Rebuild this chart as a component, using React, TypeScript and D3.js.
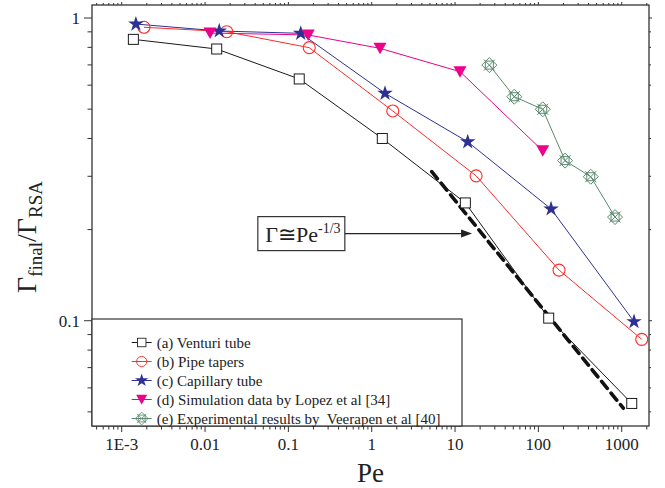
import React from "react";
import * as d3 from "d3";

const W = 665, H = 488;
const M = { left: 92, right: 649, top: 5, bottom: 426 };

// Data
const venturiPe = [0.00138, 0.0138, 0.135, 1.34, 13.3, 133, 1320];
const venturiG = [0.85, 0.79, 0.629, 0.40, 0.245, 0.102, 0.0533];
const taperPe = [0.00185, 0.0182, 0.178, 1.79, 17.9, 177, 1740];
const taperG = [0.932, 0.901, 0.798, 0.493, 0.301, 0.147, 0.0868];
const capPe = [0.00148, 0.0148, 0.1406, 1.445, 14.2, 142, 1406];
const capG = [0.955, 0.906, 0.89, 0.564, 0.39, 0.234, 0.0993];
const lopezPe = [0.01148, 0.173, 1.258, 11.47, 112.8];
const lopezG = [0.892, 0.879, 0.794, 0.665, 0.364];
const veerPe = [25.8, 51.4, 112.8, 209, 425, 832];
const veerG = [0.699, 0.5495, 0.4994, 0.338, 0.299, 0.22];
const fitPe = [5.25, 1045];
const fitG = [0.311, 0.0514];

const xTickVals = [0.001, 0.01, 0.1, 1, 10, 100, 1000];
const xTickLabels = ["1E-3", "0.01", "0.1", "1", "10", "100", "1000"];
const yTickVals = [0.1, 1];
const yTickLabels = ["0.1", "1"];

const legendLabels = [
  "(a) Venturi tube",
  "(b) Pipe tapers",
  "(c) Capillary tube",
  "(d) Simulation data by Lopez et al [34]",
  "(e) Experimental results by\u00a0 Veerapen et al [40]",
];

// annotation anchor in data coordinates
const annBoxPe = 0.043;
const annG = 0.194;
const annTipPe = 16;

const FONT = "Liberation Serif";

const COLORS = {
  a: "#1a1a1a",
  b: "#ff2a2a",
  c: "#2e3192",
  d: "#ec008c",
  e: "#5b8a6e",
};

const x = d3.scaleLog().domain([4.4e-4, 2126]).range([M.left, M.right]);
const y = d3.scaleLog().domain([0.0449, 1.104]).range([M.bottom, M.top]);

const line = d3
  .line<[number, number]>()
  .x((d) => x(d[0]))
  .y((d) => y(d[1]));

const zip = (a: number[], b: number[]) => a.map((v, i) => [v, b[i]] as [number, number]);

const starPath = d3.symbol(d3.symbolStar, 75)()!;

function Marker({ kind, cx, cy, s = 1 }: { kind: string; cx: number; cy: number; s?: number }) {
  const t = `translate(${cx},${cy}) scale(${s})`;
  if (kind === "a")
    return <rect transform={t} x={-5} y={-5} width={10} height={10} fill="#fff" stroke={COLORS.a} strokeWidth={1} />;
  if (kind === "b")
    return <circle transform={t} r={6} fill="none" stroke={COLORS.b} strokeWidth={1.1} />;
  if (kind === "c") return <path transform={t} d={starPath} fill={COLORS.c} />;
  if (kind === "d") return <path transform={t} d="M-6.5,-5.5L6.5,-5.5L0,6Z" fill={COLORS.d} />;
  return (
    <g transform={t} fill="none" stroke={COLORS.e} strokeWidth={1}>
      <path d="M0,-7.5L7.5,0L0,7.5L-7.5,0Z" />
      <path d="M-4,-4L4,-4L4,4L-4,4Z" />
      <path d="M-5.5,-5.5L5.5,5.5M-5.5,5.5L5.5,-5.5" />
    </g>
  );
}

const series = [
  { k: "a", pe: venturiPe, g: venturiG },
  { k: "b", pe: taperPe, g: taperG },
  { k: "c", pe: capPe, g: capG },
  { k: "d", pe: lopezPe, g: lopezG },
  { k: "e", pe: veerPe, g: veerG },
];

function minorTicks(lo: number, hi: number) {
  const out: number[] = [];
  for (let e = -5; e <= 4; e++) {
    for (let m = 1; m <= 9; m++) {
      const v = m * Math.pow(10, e);
      if (v >= lo && v <= hi) out.push(v);
    }
  }
  return out;
}

export default function App() {
  const [x0, x1] = x.domain();
  const [y0, y1] = y.domain();
  const xMinor = minorTicks(x0, x1);
  const yMinor = minorTicks(y0, y1);
  const isMajor = (v: number) => Math.abs(Math.log10(v) - Math.round(Math.log10(v))) < 1e-6;

  const boxX = x(annBoxPe);
  const boxY = y(annG);
  const tipX = x(annTipPe);
  const boxW = 87, boxH = 34;

  const legX = M.left, legY = 319, legW = 370, legH = M.bottom - 319;

  return (
    <svg width={W} height={H} style={{ position: "absolute", left: 0, top: 0 }}>
      <rect width={W} height={H} fill="#fff" />

      {/* fit line */}
      <path
        d={line(zip(fitPe, fitG))!}
        fill="none"
        stroke="#111"
        strokeWidth={3.6}
        strokeDasharray="9 6"
        strokeLinecap="round"
      />

      {/* series lines */}
      {series.map((s) => (
        <path key={s.k} d={line(zip(s.pe, s.g))!} fill="none" stroke={(COLORS as any)[s.k]} strokeWidth={1} />
      ))}
      {/* markers */}
      {series.map((s) => (
        <g key={s.k + "m"}>
          {s.pe.map((p, i) => (
            <Marker key={i} kind={s.k} cx={x(p)} cy={y(s.g[i])} />
          ))}
        </g>
      ))}

      {/* frame */}
      <rect
        x={M.left}
        y={M.top}
        width={M.right - M.left}
        height={M.bottom - M.top}
        fill="none"
        stroke="#333"
        strokeWidth={1.3}
      />

      {/* bottom ticks */}
      {xMinor.map((v, i) => {
        const px = x(v);
        const len = isMajor(v) ? 6 : 3.5;
        return (
          <g key={"xt" + i} stroke="#333" strokeWidth={1}>
            <line x1={px} x2={px} y1={M.bottom} y2={M.bottom + len} />
            <line x1={px} x2={px} y1={M.top} y2={M.top - (isMajor(v) ? 3 : 2)} />
          </g>
        );
      })}
      {/* left ticks */}
      {yMinor.map((v, i) => {
        const py = y(v);
        const len = isMajor(v) ? 8 : 4.5;
        return (
          <g key={"yt" + i} stroke="#333" strokeWidth={1}>
            <line x1={M.left} x2={M.left - len} y1={py} y2={py} />
            <line x1={M.right} x2={M.right + (isMajor(v) ? 3 : 2)} y1={py} y2={py} />
          </g>
        );
      })}

      {/* tick labels */}
      {xTickVals.map((v, i) => (
        <text key={"xl" + i} x={x(v)} y={450} fontSize={17} textAnchor="middle" fill="#222" style={{ fontFamily: FONT }}>
          {xTickLabels[i]}
        </text>
      ))}
      {yTickVals.map((v, i) => (
        <text key={"yl" + i} x={80} y={y(v) + 6} fontSize={17} textAnchor="end" fill="#222" style={{ fontFamily: FONT }}>
          {yTickLabels[i]}
        </text>
      ))}

      {/* axis titles */}
      <text x={(M.left + M.right) / 2} y={482} fontSize={27} textAnchor="middle" fill="#222" style={{ fontFamily: FONT }}>
        Pe
      </text>
      <text transform="translate(36,237) rotate(-90)" textAnchor="middle" fill="#222" style={{ fontFamily: FONT }}>
        <tspan fontSize={28}>Γ</tspan>
        <tspan fontSize={19} dy={6}>final</tspan>
        <tspan fontSize={28} dy={-6}>/Γ</tspan>
        <tspan fontSize={19} dy={6}>RSA</tspan>
      </text>

      {/* annotation */}
      <rect x={boxX} y={boxY - boxH / 2} width={boxW} height={boxH} fill="#fff" stroke="#333" strokeWidth={1.2} />
      <text x={boxX + 7.5} y={boxY + 8} fontSize={22} fill="#222" style={{ fontFamily: FONT }}>
        <tspan>Γ≅Pe</tspan>
        <tspan fontSize={14} dy={-9}>-1/3</tspan>
      </text>
      <line x1={boxX + boxW} x2={tipX - 9} y1={boxY} y2={boxY} stroke="#222" strokeWidth={1.2} />
      <path d={`M${tipX},${boxY}L${tipX - 11},${boxY - 4}L${tipX - 11},${boxY + 4}Z`} fill="#222" />

      {/* legend */}
      <rect x={legX} y={legY} width={legW} height={legH} fill="#fff" stroke="#333" strokeWidth={1.2} />
      {legendLabels.map((lab, i) => {
        const ly = 342.5 + i * 19;
        const k = ["a", "b", "c", "d", "e"][i];
        return (
          <g key={"lg" + i}>
            <line x1={131.7} x2={151.7} y1={ly} y2={ly} stroke={(COLORS as any)[k]} strokeWidth={1} />
            <Marker kind={k} cx={141.7} cy={ly} s={0.85} />
            <text x={156.7} y={ly + 5} fontSize={15} fill="#222" style={{ fontFamily: FONT }}>
              {lab}
            </text>
          </g>
        );
      })}
    </svg>
  );
}
